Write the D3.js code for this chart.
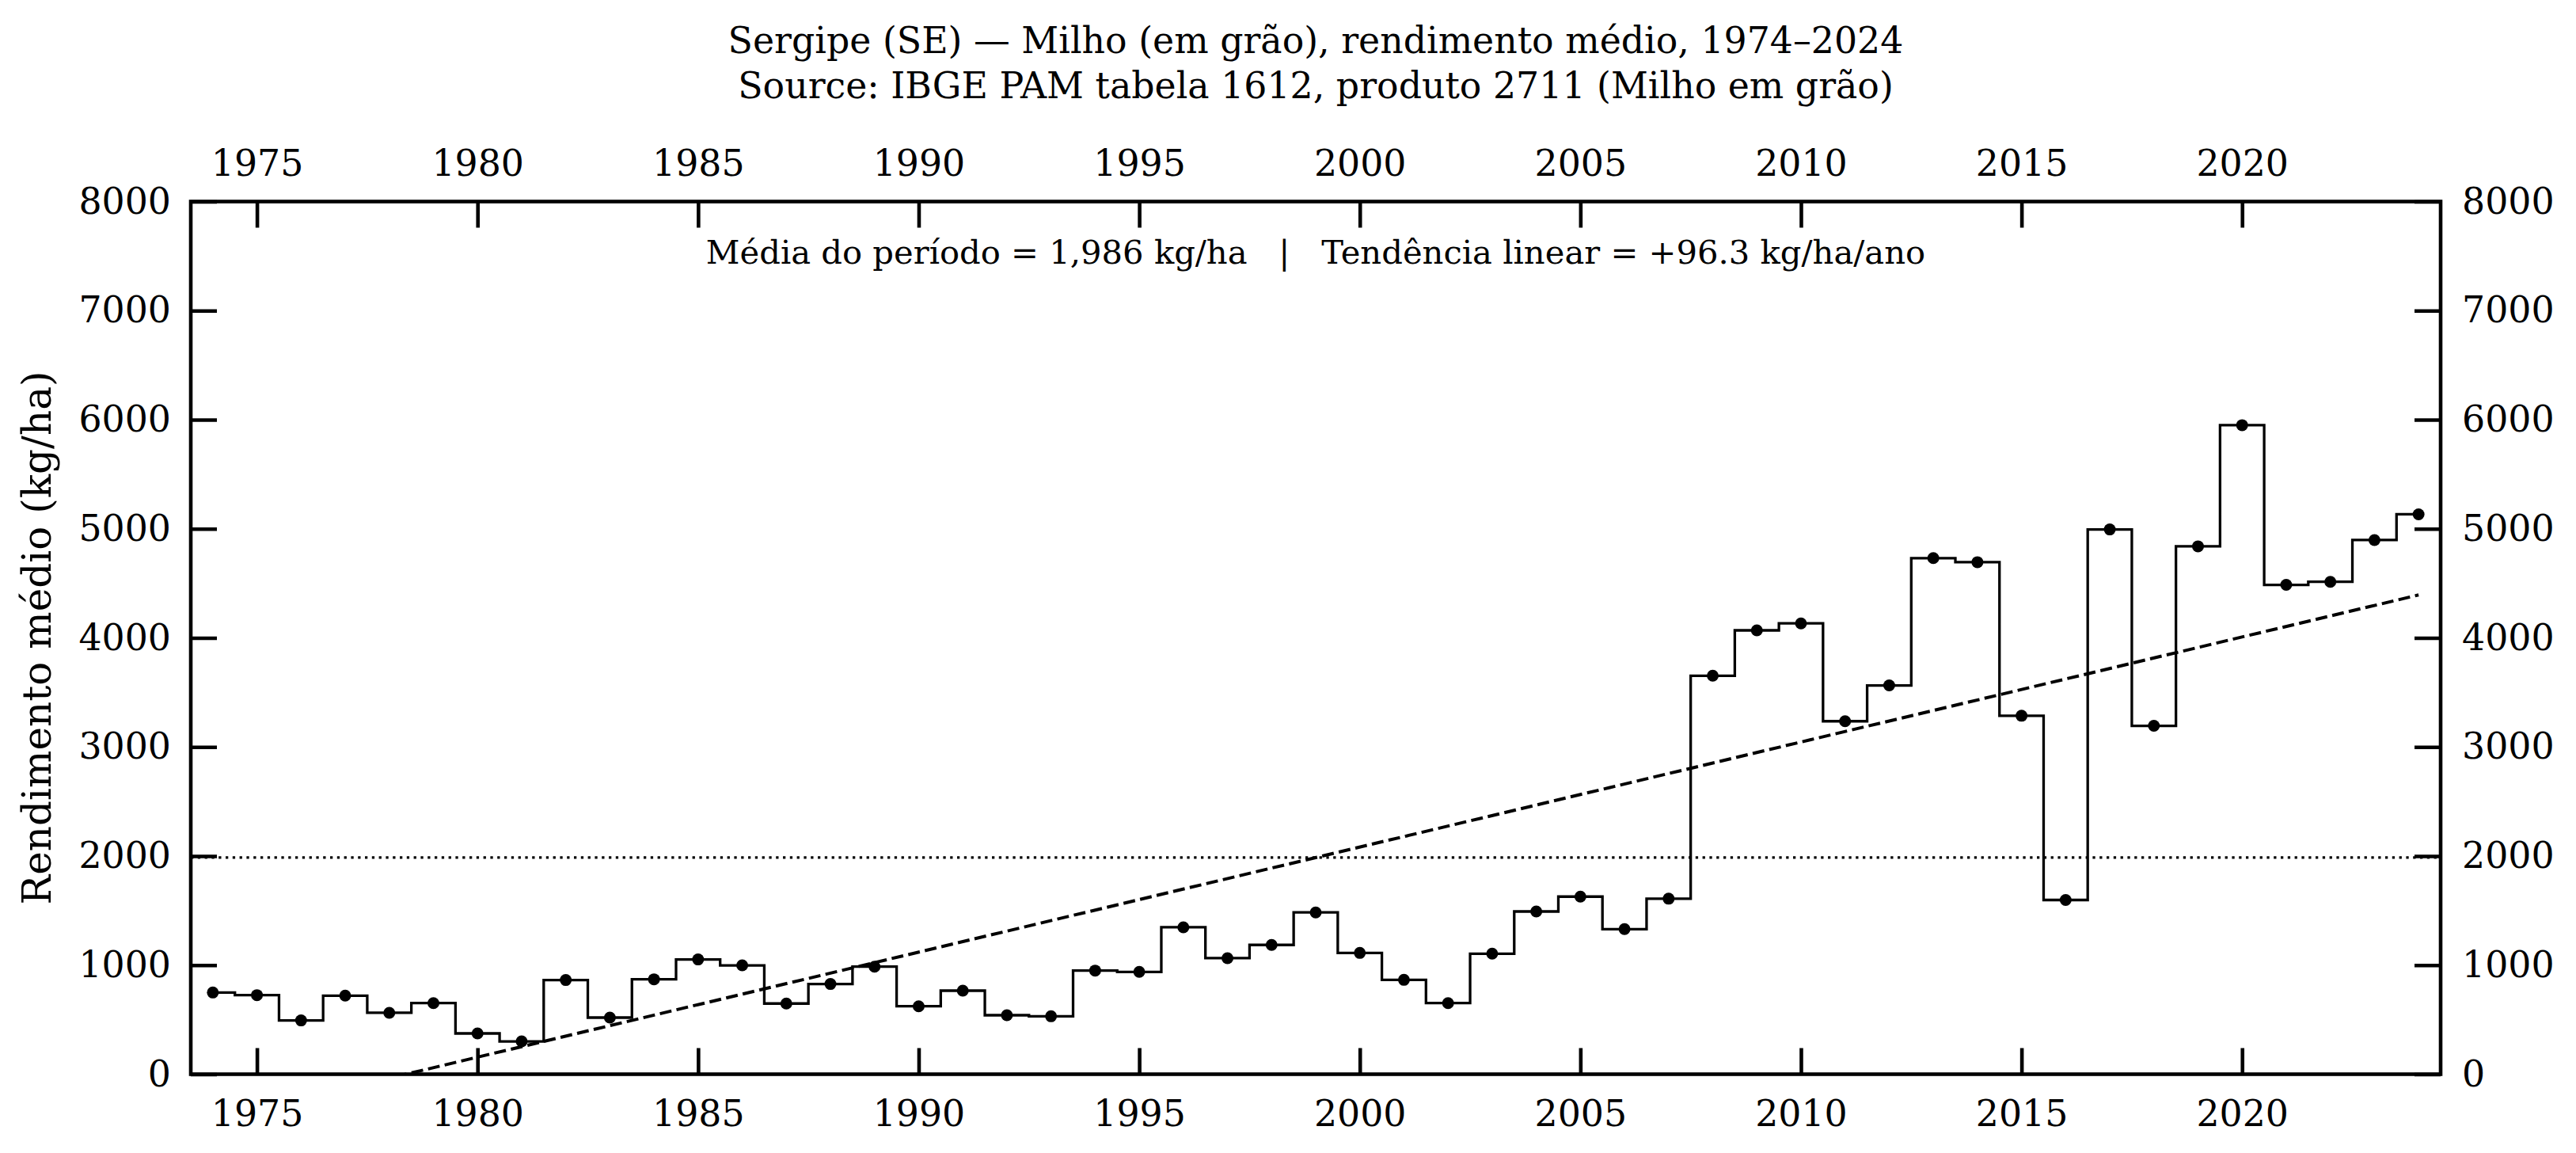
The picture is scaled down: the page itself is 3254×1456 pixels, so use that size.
<!DOCTYPE html>
<html>
<head>
<meta charset="utf-8">
<script src="https://cdn.jsdelivr.net/npm/d3@7"></script>
<style>
  html, body { margin: 0; padding: 0; background: #fff; }
  svg { display: block; font-family: "DejaVu Serif", serif; }
</style>
</head>
<body>
<svg id="chart" width="3254" height="1456"></svg>
<script>
// ---------------- data ----------------
const years = [1974,1975,1976,1977,1978,1979,1980,1981,1982,1983,
               1984,1985,1986,1987,1988,1989,1990,1991,1992,1993,
               1994,1995,1996,1997,1998,1999,2000,2001,2002,2003,
               2004,2005,2006,2007,2008,2009,2010,2011,2012,2013,
               2014,2015,2016,2017,2018,2019,2020,2021,2022,2023,2024];
const yieldKgHa = [749,725,493,720,563,652,374,301,863,519,
                   870,1052,998,648,827,986,623,766,541,531,
                   950,938,1347,1064,1185,1483,1112,865,652,1105,
                   1492,1628,1330,1609,3653,4069,4133,3236,3564,4731,
                   4694,3286,1597,4994,3194,4839,5950,4486,4514,4897,5133];
const periodMean = 1986;      // kg/ha
const trendSlope = 96.3;      // kg/ha/ano
const xTicks = [1975,1980,1985,1990,1995,2000,2005,2010,2015,2020];
const yTicks = [0,1000,2000,3000,4000,5000,6000,7000,8000];
const titleLines = ["Sergipe (SE) \u2014 Milho (em gr\u00e3o), rendimento m\u00e9dio, 1974\u20132024",
                    "Source: IBGE PAM tabela 1612, produto 2711 (Milho em gr\u00e3o)"];
const annotationText = "M\u00e9dia do per\u00edodo = 1,986 kg/ha   |   Tend\u00eancia linear = +96.3 kg/ha/ano";
const yLabel = "Rendimento m\u00e9dio (kg/ha)";

// ---------------- layout ----------------
const W = 3254, H = 1456;
const L = 241, R = 3083, T = 254.5, B = 1356.5;
const FS = 45.8;
const spineW = 4.6, tickLen = 33;

const svg = d3.select("#chart");
const x = d3.scaleLinear().domain([1973.5, 2024.5]).range([L, R]);
const y = d3.scaleLinear().domain([0, 8000]).range([B, T]);

const data = years.map((yr, i) => ({year: yr, v: yieldKgHa[i]}));
const meanYear = d3.mean(years);

svg.append("defs").append("clipPath").attr("id", "clip")
  .append("rect").attr("x", L).attr("y", T).attr("width", R - L).attr("height", B - T);

const plot = svg.append("g").attr("clip-path", "url(#clip)");

// mean line (dotted)
plot.append("line")
  .attr("x1", L).attr("x2", R)
  .attr("y1", y(periodMean)).attr("y2", y(periodMean))
  .attr("stroke", "#000").attr("stroke-width", 3.3)
  .attr("stroke-dasharray", "3.3,5.5");

// trend line (dashed)
const trend = d3.line().x(d => x(d)).y(d => y(periodMean + trendSlope * (d - meanYear)));
plot.append("path")
  .attr("d", trend([years[0], years[years.length - 1]]))
  .attr("fill", "none").attr("stroke", "#000").attr("stroke-width", 4)
  .attr("stroke-dasharray", "15,6.5");

// step line
const step = d3.line().x(d => x(d.year)).y(d => y(d.v)).curve(d3.curveStep);
plot.append("path")
  .attr("d", step(data))
  .attr("fill", "none").attr("stroke", "#000").attr("stroke-width", 3.3)
  .attr("stroke-linejoin", "miter");

// dots
plot.selectAll("circle.pt").data(data).enter().append("circle")
  .attr("class", "pt")
  .attr("cx", d => x(d.year)).attr("cy", d => y(d.v)).attr("r", 7.5)
  .attr("fill", "#000");

// ---------------- axes ----------------
function styleAxis(g) {
  g.select(".domain").remove();
  g.selectAll(".tick line").attr("stroke", "#000").attr("stroke-width", spineW);
  g.selectAll(".tick text").attr("font-size", FS).attr("fill", "#000")
    .attr("font-family", "DejaVu Serif, serif");
}

svg.append("g").attr("transform", `translate(0,${B})`)
  .call(d3.axisBottom(x).tickValues(xTicks).tickFormat(d3.format("d"))
        .tickSizeInner(-tickLen).tickSizeOuter(0).tickPadding(33))
  .call(styleAxis);

svg.append("g").attr("transform", `translate(0,${T})`)
  .call(d3.axisTop(x).tickValues(xTicks).tickFormat(d3.format("d"))
        .tickSizeInner(-tickLen).tickSizeOuter(0).tickPadding(33))
  .call(styleAxis);

svg.append("g").attr("transform", `translate(${L},0)`)
  .call(d3.axisLeft(y).tickValues(yTicks).tickFormat(d3.format("d"))
        .tickSizeInner(-tickLen).tickSizeOuter(0).tickPadding(25))
  .call(styleAxis);

svg.append("g").attr("transform", `translate(${R},0)`)
  .call(d3.axisRight(y).tickValues(yTicks).tickFormat(d3.format("d"))
        .tickSizeInner(-tickLen).tickSizeOuter(0).tickPadding(27))
  .call(styleAxis);

// spines (frame)
svg.append("rect")
  .attr("x", L).attr("y", T).attr("width", R - L).attr("height", B - T)
  .attr("fill", "none").attr("stroke", "#000").attr("stroke-width", spineW);

// ---------------- texts ----------------
const cx = (L + R) / 2;
svg.append("text")
  .attr("x", cx).attr("y", 333)
  .attr("text-anchor", "middle").attr("font-size", 41.7)
  .attr("xml:space", "preserve").style("white-space", "pre")
  .text(annotationText);

const title = svg.append("g");
title.append("text").attr("x", cx).attr("y", 66.5)
  .attr("text-anchor", "middle").attr("font-size", FS).text(titleLines[0]);
title.append("text").attr("x", cx).attr("y", 124)
  .attr("text-anchor", "middle").attr("font-size", FS).text(titleLines[1]);

svg.append("text")
  .attr("transform", `translate(64,${(T + B) / 2}) rotate(-90)`)
  .attr("text-anchor", "middle").attr("font-size", 50)
  .text(yLabel);
</script>
</body>
</html>
